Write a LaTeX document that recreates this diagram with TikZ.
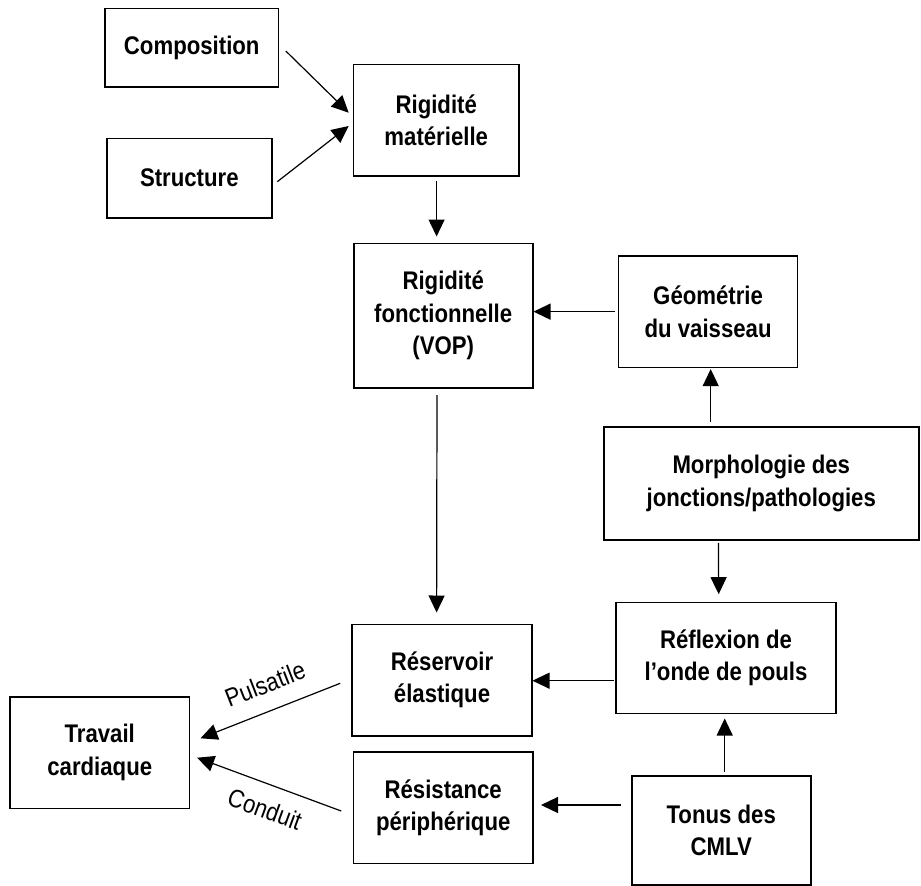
\documentclass[tikz,border=0pt]{standalone}
\usepackage{fontspec}
\setmainfont{Liberation Sans}[FakeStretch=0.87]
\usetikzlibrary{arrows.meta,calc}
\begin{document}
\begin{tikzpicture}[x=1pt,y=-1pt,
  box/.style={draw, line width=1.6pt, inner sep=0pt, align=center,
    font=\bfseries\fontsize{25.5}{32.5}\selectfont},
  arr/.style={-{Triangle[length=17pt,width=16pt]}, line width=1.2pt},
  lbl/.style={inner sep=0pt, font=\fontsize{25.5}{30}\selectfont}]
\useasboundingbox (0,0) rectangle (921,886);
% boxes
\node[box, minimum width=173.5pt, minimum height=78.7pt] (comp) at (191.75,47.65) {Composition};
\node[box, minimum width=165.3pt, minimum height=79.4pt] (struct) at (189.35,178) {Structure};
\node[box, minimum width=165.5pt, minimum height=111.7pt] (rigmat) at (436.25,120.15) {Rigidité\\matérielle};
\node[box, minimum width=179pt, minimum height=144.4pt] (rigfon) at (443.2,315.5) {Rigidité\\fonctionnelle\\(VOP)};
\node[box, minimum width=179pt, minimum height=111.3pt] (geom) at (708.1,311.65) {Géométrie\\du vaisseau};
\node[box, minimum width=314.9pt, minimum height=113.3pt] (morph) at (761.25,483.35) {Morphologie des\\jonctions/pathologies};
\node[box, minimum width=220pt, minimum height=111pt] (reflex) at (726,657.8) {Réflexion de\\l’onde de pouls};
\node[box, minimum width=180pt, minimum height=111.4pt] (reserv) at (442,680) {Réservoir\\élastique};
\node[box, minimum width=179.4pt, minimum height=111.5pt] (resist) at (443.2,807.75) {Résistance\\périphérique};
\node[box, minimum width=179pt, minimum height=109pt] (tonus) at (721.2,830.5) {Tonus des\\CMLV};
\node[box, minimum width=179.1pt, minimum height=111.6pt] (travail) at (99.75,752.5) {Travail\\cardiaque};
% connectors
\draw[arr] ($(comp.east)+(6.5,3.35)$) -- ($(rigmat.west)+(-4,-7.45)$);
\draw[arr] ($(struct.east)+(4.5,3.7)$) -- ($(rigmat.west)+(-4,5.85)$);
\draw[arr] ($(rigmat.south)+(0.35,4)$) -- ($(rigmat.south|-rigfon.north)+(0.35,-6)$);
\draw[arr] ($(geom.west)+(-3,0)$) -- (geom.west -| rigfon.east);
\draw[arr] ($(geom.south|-morph.north)+(2.6,-4)$) -- ($(geom.south)+(2.6,1)$);
\draw[arr] ($(rigfon.south)+(-6.2,6.6)$) -- ($(reserv.north)+(-5.4,-11)$);
\draw[arr] ($(morph.south-|reflex.north)+(-7.6,2)$) -- ($(reflex.north)+(-7.3,-7.3)$);
\draw[arr] ($(reflex.west)+(-1.7,22.9)$) -- ($(reserv.east)+(-0.3,0.7)$);
\draw[arr] ($(tonus.north-|reflex.south)+(-1.3,-3.7)$) -- ($(reflex.south)+(-1.3,4.4)$);
\draw[arr] ($(tonus.west)+(-10,-25.5)$) -- ($(resist.east)+(7.3,-2.75)$);
\draw[arr] ($(reserv.west)+(-11,3.3)$) -- ($(travail.east)+(10.4,-14.2)$);
\draw[arr] ($(resist.west)+(-11.5,3.25)$) -- ($(travail.east)+(7,5.2)$);
% labels
\node[lbl, rotate=21.3] (lpuls) at (265,684) {Pulsatile};
\node[lbl, rotate=-20.1] (lcond) at (265,809.3) {Conduit};
\end{tikzpicture}
\end{document}
